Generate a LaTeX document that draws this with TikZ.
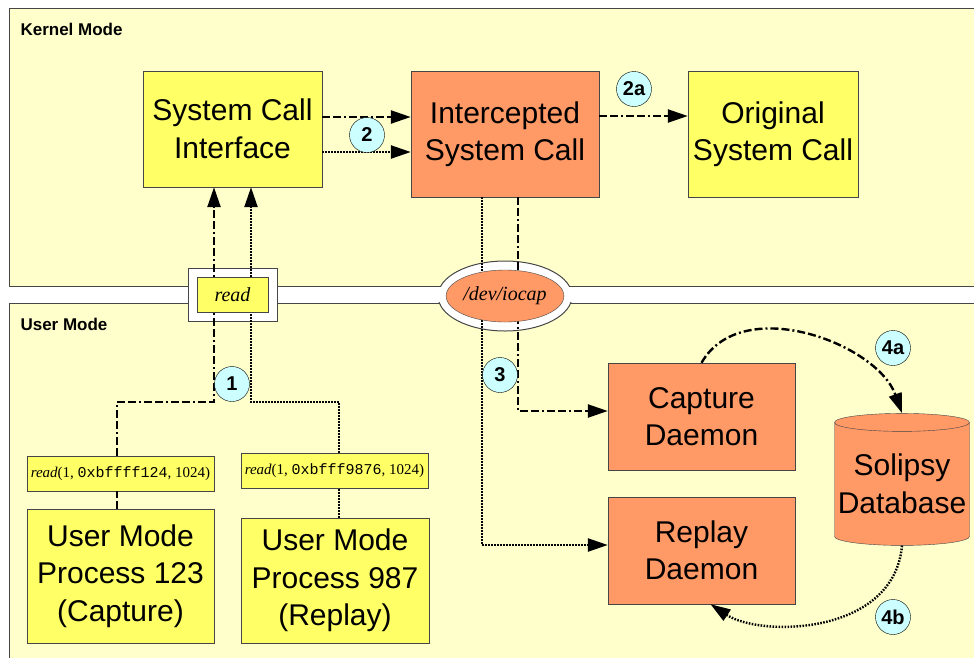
\documentclass[tikz,border=0pt]{standalone}
\usepackage{fontspec}
\setmainfont{Liberation Sans}
\setmonofont{Liberation Mono}
\newfontfamily\timesfont{Liberation Serif}
\usetikzlibrary{arrows.meta,positioning,shapes.geometric}
\definecolor{panelyellow}{RGB}{255,255,204}
\definecolor{boxyellow}{RGB}{255,255,102}
\definecolor{boxorange}{RGB}{255,153,102}
\definecolor{stepcyan}{RGB}{204,255,255}
\definecolor{edgegray}{RGB}{70,70,70}
\newcommand{\callfn}{\textit{read}}

\begin{document}
\begin{tikzpicture}[
  x=1pt, y=1pt,
  bigtext/.style={font=\fontsize{30}{37.5}\selectfont},
  ybox/.style={
    draw=edgegray,
    fill=boxyellow,
    align=center,
    inner sep=0pt,
    bigtext
  },
  obox/.style={
    draw=edgegray,
    fill=boxorange,
    align=center,
    inner sep=0pt,
    bigtext
  },
  callbox/.style={
    draw=edgegray,
    fill=boxyellow,
    inner sep=0pt,
    minimum width=187pt,
    minimum height=35pt,
    font=\timesfont\fontsize{15}{18}\selectfont
  },
  stepnum/.style={
    circle,
    draw=black,
    fill=stepcyan,
    minimum size=35pt,
    inner sep=0pt,
    font=\bfseries\fontsize{20}{20}\selectfont
  },
  modelabel/.style={anchor=west, font=\bfseries\fontsize{17}{17}\selectfont},
  capline/.style={line width=2.4pt, dash pattern=on 8pt off 3pt on 8pt off 3pt on 2pt off 3pt},
  repline/.style={line width=2.4pt, dash pattern=on 1.6pt off 1.4pt},
  arr/.style={-{Triangle[length=20pt,width=13pt]}}
]
\useasboundingbox (0,0) rectangle (974,-657);
\clip (0,0) rectangle (974,-657);

% the two modes
\filldraw[fill=panelyellow, draw=edgegray, line width=1pt] (9,-8) rectangle (990,-286);
\filldraw[fill=panelyellow, draw=edgegray, line width=1pt] (9,-303) rectangle (990,-680);
\node[modelabel] (kmode) at (17,-29) {Kernel Mode};
\node[modelabel] (umode) at (17,-324) {User Mode};

% gates between the modes
\filldraw[fill=white, draw=edgegray, line width=1pt] (188,-268) rectangle (277,-321);
\fill[white] (188.6,-286.6) rectangle (276.4,-302.4);
\filldraw[fill=white, draw=edgegray, line width=1pt] (505,-296) ellipse [x radius=67, y radius=35];
\fill[white] (436,-286.6) rectangle (574,-302.4);

% kernel side
\node[ybox, minimum width=179pt, minimum height=116pt] (sci) at (232.5,-129) {System Call\\Interface};
\node[obox, minimum width=188pt, minimum height=126pt] (icpt) at (505,-134) {Intercepted\\System Call};
\node[ybox, minimum width=170pt, minimum height=126pt] (orig) at (773,-134) {Original\\System Call};

% user side
\node[ybox, minimum width=187pt, minimum height=134pt] (p123) at (120.5,-576) {User Mode\\Process 123\\(Capture)};
\node[ybox, minimum width=188pt, minimum height=125pt] (p987) at (335,-580.5) {User Mode\\Process 987\\(Replay)};
\node[callbox] (call123) at (120.5,-473.5) {\callfn(1, {\ttfamily 0xbffff124}, 1024)};
\node[callbox] (call987) at (334.5,-470.5) {\callfn(1, {\ttfamily 0xbfff9876}, 1024)};
\node[obox, minimum width=187pt, minimum height=107pt] (capd) at (701.5,-416.5) {Capture\\Daemon};
\node[obox, minimum width=187pt, minimum height=107pt] (repd) at (701.5,-550.5) {Replay\\Daemon};
\node[cylinder, shape border rotate=90, draw=edgegray, fill=boxorange, align=center, bigtext,
  aspect=0.14, minimum width=135pt, minimum height=132pt, inner sep=0pt] (db) at (902,-484) {Solipsy\\Database};

\coordinate (jcap) at (117,-402);
\coordinate (jrep) at (339,-402);

% capture path
\draw[capline] (p123.north -| jcap) -- (call123.south -| jcap);
\draw[capline, arr] (call123.north -| jcap) -- (jcap) -| ([xshift=-18.5pt]sci.south);
\draw[capline, arr] ([yshift=12pt]sci.east) -- ([yshift=12pt]sci.east -| icpt.west);
\draw[capline, arr] ([yshift=18pt]icpt.east) -- ([yshift=18pt]icpt.east -| orig.west);
\draw[capline, arr] ([xshift=13pt]icpt.south) |- ([yshift=5.5pt]capd.west);
\draw[capline, arr] (capd.north) .. controls +(40,70) and +(-25,70) .. (db.north);

% replay path
\draw[repline] (p987.north -| jrep) -- (call987.south -| jrep);
\draw[repline, arr] (call987.north -| jrep) -- (jrep) -| ([xshift=18.5pt]sci.south);
\draw[repline, arr] ([yshift=-23pt]sci.east) -- ([yshift=-23pt]sci.east -| icpt.west);
\draw[repline, arr] ([xshift=-23pt]icpt.south) |- ([yshift=5.5pt]repd.west);
\draw[repline, arr] (db.south) .. controls +(-8,-90) and +(50,-33) .. ([xshift=9pt]repd.south);

% gate labels
\node[ybox, minimum width=71pt, minimum height=35pt, font=\timesfont\itshape\fontsize{20}{20}\selectfont] (gate) at (232.5,-294.5) {read};
\node[ellipse, draw=edgegray, fill=boxorange, minimum width=116pt, minimum height=52pt, inner sep=0pt,
  font=\timesfont\itshape\fontsize{20}{20}\selectfont] (iocap) at (505,-296) {/dev/iocap};

% steps
\node[stepnum] (s1) at (232,-384) {1};
\node[stepnum] (s2) at (367,-135) {2};
\node[stepnum] (s2a) at (634,-89) {2a};
\node[stepnum] (s3) at (500,-375) {3};
\node[stepnum] (s4a) at (893,-348) {4a};
\node[stepnum] (s4b) at (893,-617) {4b};
\end{tikzpicture}
\end{document}
